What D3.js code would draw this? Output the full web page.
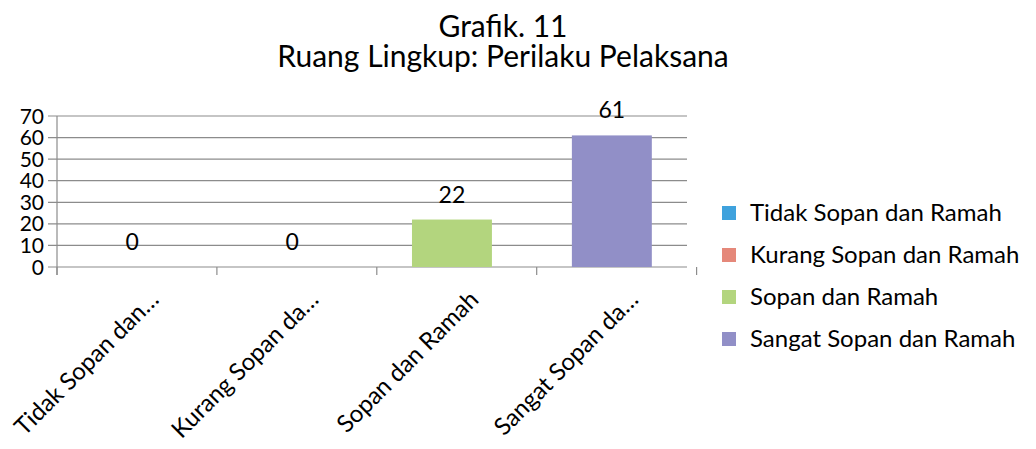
<!DOCTYPE html>
<html>
<head>
<meta charset="utf-8">
<script src="https://cdn.jsdelivr.net/npm/d3@7"></script>
<style>
  body { margin: 0; background: #fff; }
  svg { font-family: Lato, "Open Sans", sans-serif; }
</style>
</head>
<body>
<svg id="chart" width="1036" height="449"></svg>
<script>
// data
const categories = ['Tidak Sopan dan Ramah', 'Kurang Sopan dan Ramah', 'Sopan dan Ramah', 'Sangat Sopan dan Ramah'];
const shortLabels = ['Tidak Sopan dan…', 'Kurang Sopan da…', 'Sopan dan Ramah', 'Sangat Sopan da…'];
const values = [0, 0, 22, 61];
const colors = ['#3fa2dd', '#e5887a', '#b3d57e', '#918fc7'];
const yTicks = [0, 10, 20, 30, 40, 50, 60, 70];

const svg = d3.select('#chart');
const margin = { left: 57, right: 349, top: 116, bottom: 182 };
const W = 1036, H = 449;

const x = d3.scaleBand()
  .domain(categories)
  .range([margin.left, W - margin.right])
  .paddingInner(0.5).paddingOuter(0.22);

const y = d3.scaleLinear()
  .domain([0, 70])
  .range([H - margin.bottom, margin.top]);

// title
svg.append('text')
  .attr('x', 503).attr('y', 37)
  .attr('text-anchor', 'middle')
  .attr('font-size', 30)
  .text('Grafik. 11');
svg.append('text')
  .attr('x', 503).attr('y', 67)
  .attr('text-anchor', 'middle')
  .attr('font-size', 30)
  .text('Ruang Lingkup: Perilaku Pelaksana');

// gridlines
svg.append('g')
  .selectAll('line')
  .data(yTicks)
  .join('line')
  .attr('x1', margin.left - 9)
  .attr('x2', W - margin.right)
  .attr('y1', d => y(d))
  .attr('y2', d => y(d))
  .attr('stroke', '#8c8c8c')
  .attr('stroke-width', 1.2);

// y axis labels
svg.append('g')
  .selectAll('text')
  .data(yTicks)
  .join('text')
  .attr('x', 44)
  .attr('y', d => y(d))
  .attr('dy', '0.36em')
  .attr('text-anchor', 'end')
  .attr('font-size', 21)
  .text(d => d);

// y axis line
svg.append('line')
  .attr('x1', margin.left).attr('x2', margin.left)
  .attr('y1', y(70)).attr('y2', y(0) + 8)
  .attr('stroke', '#8c8c8c').attr('stroke-width', 1.2);

// x category ticks
const step = x.step();
const tickXs = d3.range(categories.length + 1).map(i => margin.left + i * step);
svg.append('g')
  .selectAll('line')
  .data(tickXs)
  .join('line')
  .attr('x1', d => d).attr('x2', d => d)
  .attr('y1', y(0)).attr('y2', y(0) + 8)
  .attr('stroke', '#8c8c8c').attr('stroke-width', 1.2);

// bars
svg.append('g')
  .selectAll('rect')
  .data(values)
  .join('rect')
  .attr('x', (d, i) => x(categories[i]))
  .attr('y', d => y(d))
  .attr('width', x.bandwidth())
  .attr('height', d => y(0) - y(d))
  .attr('fill', (d, i) => colors[i]);

// value labels
svg.append('g')
  .selectAll('text')
  .data(values)
  .join('text')
  .attr('x', (d, i) => x(categories[i]) + x.bandwidth() / 2)
  .attr('y', d => y(d) - 25)
  .attr('dy', '0.35em')
  .attr('text-anchor', 'middle')
  .attr('font-size', 23)
  .text(d => d);

// x labels
svg.append('g')
  .selectAll('text')
  .data(shortLabels)
  .join('text')
  .attr('transform', (d, i) => `translate(${x(categories[i]) + x.bandwidth() / 2 + 28},${y(0) + 34}) rotate(-45)`)
  .attr('text-anchor', 'end')
  .attr('font-size', 24)
  .text(d => d);

// legend
const legend = svg.append('g')
  .selectAll('g')
  .data(categories)
  .join('g')
  .attr('transform', (d, i) => `translate(722,${213 + i * 42})`);
legend.append('rect')
  .attr('x', 0).attr('y', -7)
  .attr('width', 14).attr('height', 14)
  .attr('fill', (d, i) => colors[i]);
legend.append('text')
  .attr('x', 28).attr('y', 0)
  .attr('dy', '0.35em')
  .attr('font-size', 24)
  .text(d => d);
</script>
</body>
</html>
